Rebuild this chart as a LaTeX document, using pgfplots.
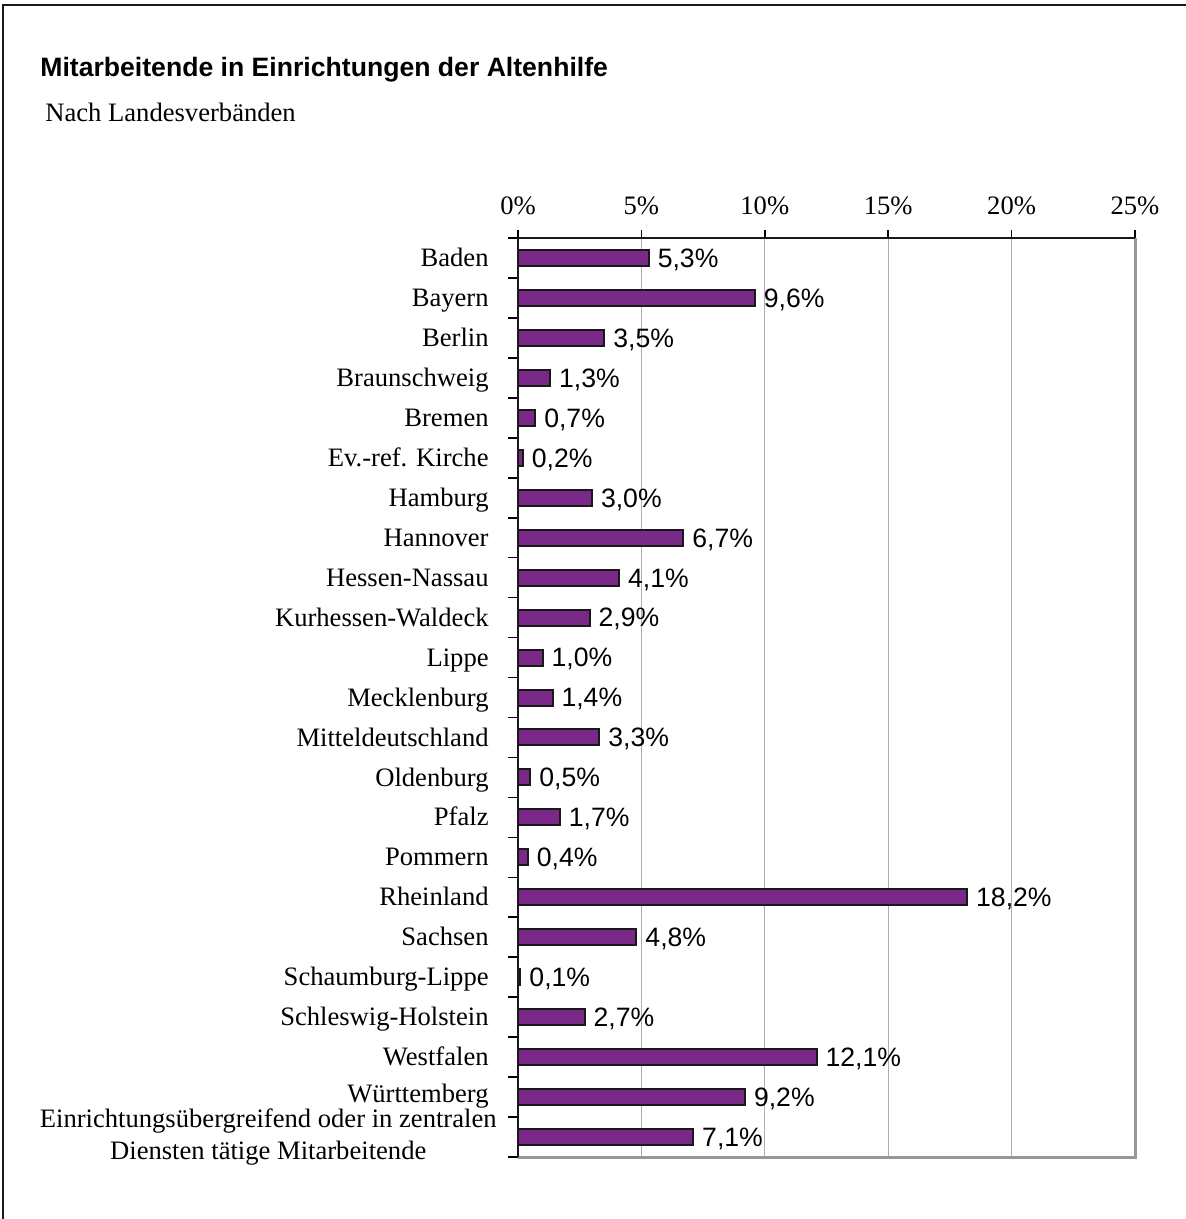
\documentclass[border=0pt]{standalone}
\usepackage{pgfplots}
\pgfplotsset{compat=1.18}
\usepackage{fontspec}
\setmainfont{Liberation Serif}
\newfontfamily\arial{Liberation Sans}
\definecolor{barpurple}{RGB}{123,41,137}
\definecolor{gridgray}{RGB}{175,175,175}
\definecolor{framegray}{RGB}{150,150,155}
\begin{document}
\fontsize{13.3}{16}\selectfont
\begin{tikzpicture}
\useasboundingbox (0,0) rectangle (593pt,-609.5pt);
\draw[line width=1pt, black!90] (1.5pt,-609.5pt) -- (1.5pt,-2.5pt) -- (593pt,-2.5pt);
\node[anchor=west, font=\arial\bfseries\fontsize{13.3}{16}\selectfont, inner sep=0pt] at (20pt,-35pt) {Mitarbeitende in Einrichtungen der Altenhilfe};
\node[anchor=west, inner sep=0pt] at (22.5pt,-56pt) {Nach Landesverbänden};
\begin{axis}[
  at={(259pt,-578.5pt)}, anchor=south west,
  scale only axis, width=308.5pt, height=459.5pt,
  xbar, bar width=8pt,
  xmin=0, xmax=25, ymin=-0.5, ymax=22.5,
  clip=false,
  axis line style={draw=none},
  xtick={0,5,...,25},
  xticklabels={0\%,5\%,10\%,15\%,20\%,25\%},
  xtick pos=right, xticklabel pos=right,
  xtick align=outside,
  xticklabel style={yshift=3pt},
  major tick length=4pt,
  xmajorgrids,
  grid style={gridgray, line width=0.5pt},
  ytick={0,...,22},
  yticklabels={{},\raisebox{1.5pt}{Württemberg},Westfalen,Schleswig-Holstein,Schaumburg-Lippe,Sachsen,Rheinland,Pommern,Pfalz,Oldenburg,Mitteldeutschland,Mecklenburg,Lippe,Kurhessen-Waldeck,Hessen-Nassau,Hannover,Hamburg,Ev.-ref. Kirche,Bremen,Braunschweig,Berlin,Bayern,Baden},
  ytick pos=left,
  major y tick style={draw=none},
  minor ytick={-0.5,0.5,...,22.5},
  minor tick length=5pt,
  ytick align=outside,
  minor y tick style={black, line width=0.8pt},
  x tick style={black, line width=0.8pt},
  yticklabel style={inner sep=0pt, anchor=base east, xshift=-10.5pt, yshift=-4.3pt},
  nodes near coords={\pgfmathprintnumber[fixed,fixed zerofill,precision=1,use comma,assume math mode=true]{\pgfplotspointmeta}\%},
  every node near coord/.append style={font=\arial\fontsize{13.3}{16}\selectfont, anchor=base west, inner sep=0pt, xshift=4pt, yshift=-4.7pt, black},
]
\addplot[fill=barpurple, draw=black!90, line width=1pt] coordinates {
(5.3,22) (9.6,21) (3.5,20) (1.3,19) (0.7,18) (0.2,17) (3.0,16) (6.7,15)
(4.1,14) (2.9,13) (1.0,12) (1.4,11) (3.3,10) (0.5,9) (1.7,8) (0.4,7)
(18.2,6) (4.8,5) (0.1,4) (2.7,3) (12.1,2) (9.2,1) (7.1,0)
};
\draw[framegray, line width=1.5pt] (rel axis cs:1,1) -- (rel axis cs:1,0) -- (rel axis cs:0,0);
\draw[black!90, line width=1pt] (rel axis cs:0,0) -- (rel axis cs:0,1) -- (rel axis cs:1,1);
\node[anchor=east, align=center, inner sep=0pt, xshift=-10.5pt] at (axis cs:0,0.0) {Einrichtungsübergreifend oder in zentralen\\Diensten tätige Mitarbeitende};
\end{axis}
\end{tikzpicture}
\end{document}
